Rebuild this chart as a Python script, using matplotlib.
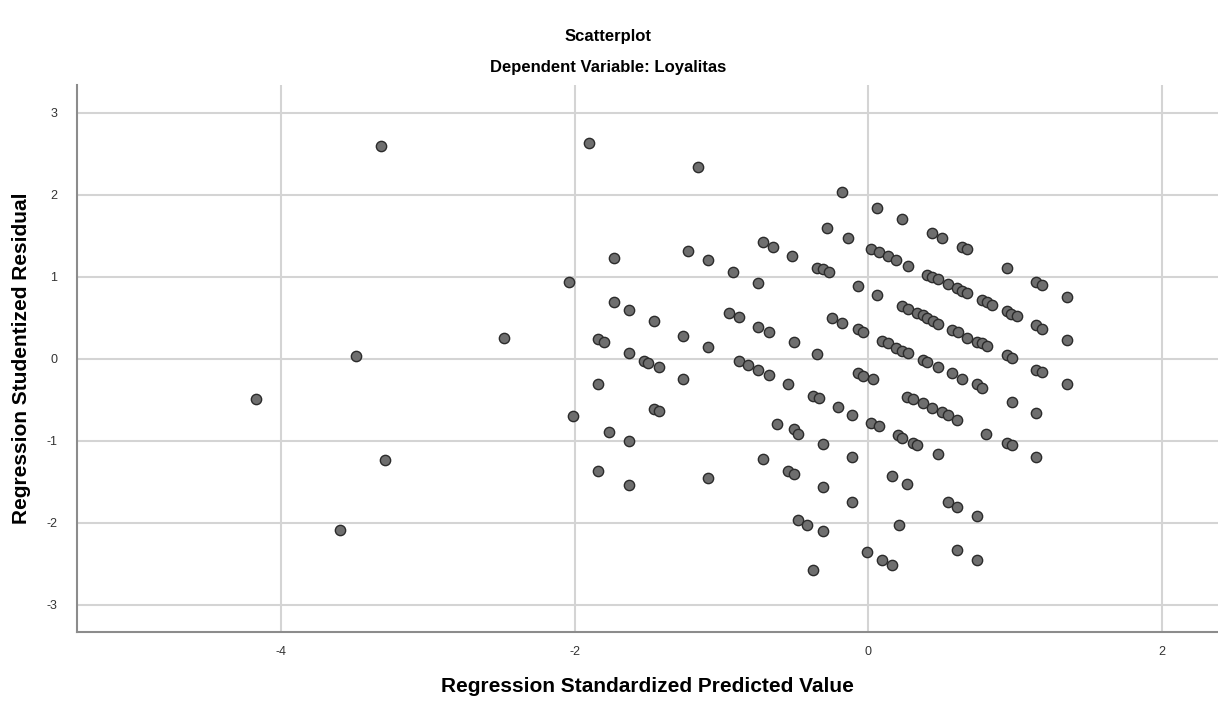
import matplotlib.pyplot as plt

plt.rcParams["font.family"] = ["Liberation Sans", "DejaVu Sans"]
plt.rcParams["axes.unicode_minus"] = False

# predicted value (standardized) and studentized residual
pred = [
    -3.32, -3.49, -4.17, -3.29, -3.60, -2.48,
    -1.90, -1.16, -1.23, -1.09, -1.73, -2.04, -1.73, -1.63, -1.46, -1.26,
    -1.09, -1.84, -1.80, -1.63, -1.53, -1.50, -1.43, -1.26, -1.84, -1.46,
    -1.43, -2.01, -1.77, -1.63, -1.84, -1.63, -1.09,
    -0.18, 0.06, 0.23, -0.28, -0.14, -0.72, -0.65, -0.52, -0.92, -0.35,
    -0.31, -0.27, 0.02, 0.07, 0.13, 0.19, 0.27, -0.75, -0.07, 0.06,
    -0.95, -0.88, -0.75, -0.68, -0.25, -0.18, -0.07, -0.04, 0.09, 0.13,
    0.19, 0.23, 0.27, -0.51, -0.35, -0.88, -0.82, -0.75, -0.68, -0.07,
    -0.04, 0.03,
    -0.55, -0.38, -0.34, -0.21, -0.11, -0.62, -0.51, -0.48, -0.31, 0.02,
    0.07, 0.20, 0.23, 0.30, 0.33, -0.72, -0.55, -0.51, -0.11, -0.31,
    -0.11, 0.16, -0.48, -0.42, -0.31, 0.21, -0.01, 0.09, 0.16, -0.38,
    0.43, 0.50, 0.64, 0.67, 0.94, 0.40, 0.43, 0.47, 0.54, 0.60, 0.64,
    0.67, 0.77, 0.81, 0.84, 0.94, 0.97, 1.01, 1.14, 1.18, 1.35, 1.14,
    1.18, 1.35, 0.23, 0.27, 0.33, 0.37, 0.40, 0.44, 0.47, 0.57, 0.61,
    0.67, 0.74, 0.77, 0.81, 0.94, 0.98, 1.14, 1.18, 0.37, 0.40, 0.47,
    0.57, 0.64,
    0.74, 0.77, 1.35, 0.98, 1.14, 0.26, 0.30, 0.37, 0.43, 0.50, 0.54,
    0.60, 0.47, 0.80, 0.94, 0.98, 1.14, 0.26, 0.54, 0.60, 0.74, 0.60,
    0.74,
]
resid = [
    2.60, 0.03, -0.49, -1.23, -2.09, 0.25,
    2.63, 2.34, 1.32, 1.21, 1.23, 0.94, 0.69, 0.60, 0.46, 0.28,
    0.15, 0.24, 0.21, 0.07, -0.02, -0.05, -0.10, -0.24, -0.30, -0.61,
    -0.64, -0.70, -0.89, -1.00, -1.37, -1.54, -1.45,
    2.04, 1.84, 1.70, 1.59, 1.48, 1.43, 1.37, 1.26, 1.06, 1.11,
    1.09, 1.06, 1.34, 1.30, 1.26, 1.21, 1.13, 0.92, 0.89, 0.78,
    0.56, 0.51, 0.39, 0.33, 0.50, 0.44, 0.36, 0.33, 0.22, 0.19,
    0.13, 0.10, 0.07, 0.20, 0.06, -0.02, -0.08, -0.13, -0.20, -0.17,
    -0.21, -0.25,
    -0.31, -0.45, -0.48, -0.59, -0.68, -0.79, -0.86, -0.92, -1.04, -0.78,
    -0.82, -0.93, -0.96, -1.02, -1.05, -1.22, -1.37, -1.40, -1.20, -1.56,
    -1.74, -1.43, -1.96, -2.03, -2.10, -2.02, -2.35, -2.45, -2.51, -2.57,
    1.53, 1.48, 1.36, 1.34, 1.11, 1.02, 1.00, 0.98, 0.91, 0.86, 0.83,
    0.80, 0.72, 0.69, 0.66, 0.58, 0.55, 0.52, 0.94, 0.90, 0.76, 0.41,
    0.37, 0.23, 0.64, 0.61, 0.56, 0.53, 0.50, 0.46, 0.43, 0.35, 0.33,
    0.26, 0.21, 0.19, 0.16, 0.05, 0.01, -0.13, -0.16, -0.01, -0.04, -0.10,
    -0.17, -0.24,
    -0.31, -0.36, -0.30, -0.52, -0.66, -0.46, -0.49, -0.54, -0.60, -0.65, -0.68,
    -0.74, -1.16, -0.91, -1.02, -1.05, -1.19, -1.52, -1.75, -1.80, -1.92, -2.33,
    -2.45,
]

x_ticks = [-4, -2, 0, 2]
y_ticks = [-3, -2, -1, 0, 1, 2, 3]

fig = plt.figure(figsize=(12.18, 7.05), dpi=100)
ax = fig.add_axes([0.0632, 0.1035, 0.9368, 0.776])

ax.scatter(pred, resid, s=55, color="#6e6e6e", edgecolors="#2b2b2b",
           linewidths=1.0, zorder=3)

ax.set_xlim(-5.39, 2.38)
ax.set_ylim(-3.33, 3.34)
ax.set_xticks(x_ticks)
ax.set_yticks(y_ticks)
ax.grid(True, color="#d4d4d4", linewidth=1.5, zorder=0)
ax.tick_params(length=0, labelsize=9, colors="#333333")
ax.tick_params(axis="x", pad=10)
ax.tick_params(axis="y", pad=14)

for side in ["top", "right"]:
    ax.spines[side].set_visible(False)
for side in ["left", "bottom"]:
    ax.spines[side].set_color("#8c8c8c")
    ax.spines[side].set_linewidth(1.5)

ax.set_xlabel("Regression Standardized Predicted Value", fontsize=15,
              fontweight="bold")
ax.set_ylabel("Regression Studentized Residual", fontsize=15,
              fontweight="bold")
ax.xaxis.set_label_coords(0.5, -0.082)
ax.yaxis.set_label_coords(-0.04, 0.5)

fig.text(0.4995, 0.948, "Scatterplot", ha="center", va="center",
         fontsize=12, fontweight="bold")
fig.text(0.4995, 0.904, "Dependent Variable: Loyalitas", ha="center",
         va="center", fontsize=12, fontweight="bold")

fig.savefig("out.png", dpi=100)
